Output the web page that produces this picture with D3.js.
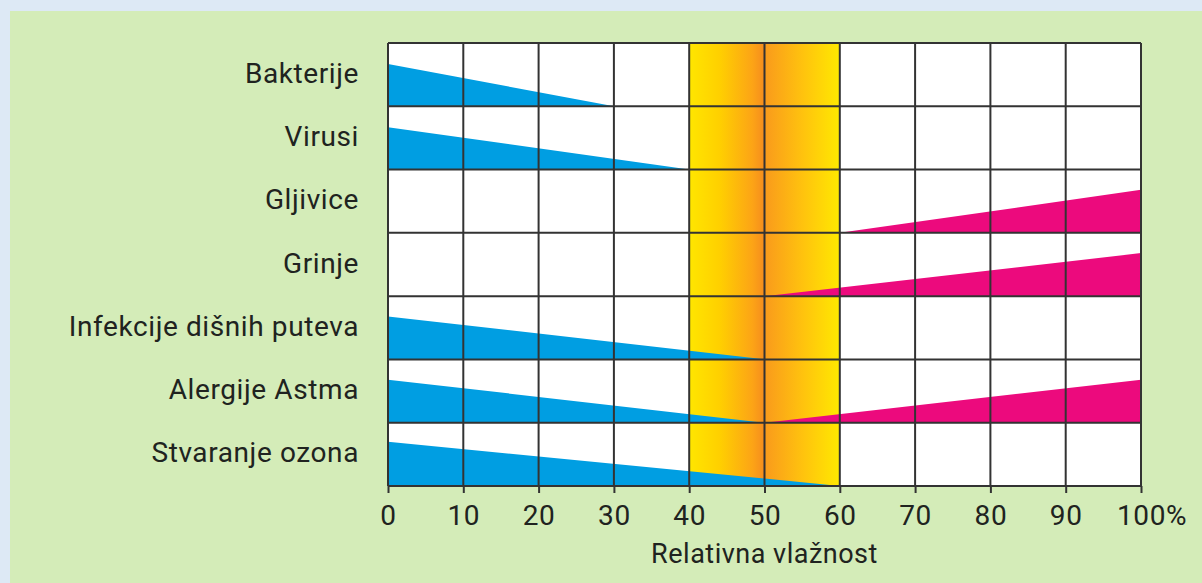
<!DOCTYPE html>
<html>
<head>
<meta charset="utf-8">
<script src="https://cdn.jsdelivr.net/npm/d3@7"></script>
<style>
  html, body { margin: 0; padding: 0; background: #dde9f5; }
  svg { display: block; }
</style>
</head>
<body>
<script>
// rows, top to bottom
const categories = [
  "Bakterije",
  "Virusi",
  "Gljivice",
  "Grinje",
  "Infekcije dišnih puteva",
  "Alergije Astma",
  "Stvaranje ozona"
];
// blue wedge: falls from peak at 0% to nothing at blueEnd
const blueEnd = [30, 40, null, null, 50, 50, 60];
// pink wedge: grows from nothing at pinkStart to peak at 100%
const pinkStart = [null, null, 60, 50, null, 50, null];
// wedge height at its tall end, share of the row
const bluePeak = [0.67, 0.67, null, null, 0.68, 0.68, 0.7];
const pinkPeak = [null, null, 0.68, 0.68, null, 0.68, null];
// comfort zone
const zoneFrom = 40, zoneMid = 50, zoneTo = 60;
const xTicks = [0, 10, 20, 30, 40, 50, 60, 70, 80, 90, 100];
const xTitle = "Relativna vlažnost";

const W = 1202, H = 583;
const margin = { left: 388, top: 43, right: 61, bottom: 97 };
const innerW = W - margin.left - margin.right;
const innerH = H - margin.top - margin.bottom;

const font = "Roboto, 'Noto Sans', sans-serif";
const textColor = "#202320";
const gridColor = "#333333";

const svg = d3.select("body").append("svg")
  .attr("width", W)
  .attr("height", H)
  .attr("viewBox", [0, 0, W, H]);

// green panel
svg.append("rect")
  .attr("x", 10).attr("y", 11)
  .attr("width", W).attr("height", H)
  .attr("fill", "#d4ecb8");

const defs = svg.append("defs");
const grad = defs.append("linearGradient").attr("id", "zone")
  .attr("x1", "0%").attr("x2", "100%").attr("y1", "0%").attr("y2", "0%");
[
  [0, "#ffe600"], [0.2, "#ffd000"], [0.42, "#fca416"], [0.5, "#f58c1e"],
  [0.5, "#f99a1c"], [0.75, "#ffc20e"], [1, "#ffe900"]
].forEach(([o, c]) => grad.append("stop").attr("offset", o).attr("stop-color", c));

const x = d3.scaleLinear().domain([0, 100]).range([0, innerW]);
const y = d3.scaleBand().domain(categories).range([0, innerH]);
// height inside a row: 0 = row bottom, 1 = row top
const h = d3.scaleLinear().domain([0, 1]).range([y.bandwidth(), 0]);

const g = svg.append("g").attr("transform", `translate(${margin.left},${margin.top})`);

g.append("rect")
  .attr("width", innerW).attr("height", innerH)
  .attr("fill", "#ffffff");

g.append("rect")
  .attr("x", x(zoneFrom)).attr("width", x(zoneTo) - x(zoneFrom))
  .attr("height", innerH)
  .attr("fill", "url(#zone)");

const rows = categories.map((name, i) => ({
  name,
  blueEnd: blueEnd[i], bluePeak: bluePeak[i],
  pinkStart: pinkStart[i], pinkPeak: pinkPeak[i]
}));

const row = g.selectAll("g.row")
  .data(rows)
  .join("g")
  .attr("class", "row")
  .attr("transform", d => `translate(0,${y(d.name)})`);

const line = d3.line().x(d => x(d[0])).y(d => h(d[1]));

row.filter(d => d.blueEnd != null)
  .append("path")
  .attr("fill", "#009ee2")
  .attr("d", d => line([[0, 0], [0, d.bluePeak], [d.blueEnd, 0]]) + "Z");

row.filter(d => d.pinkStart != null)
  .append("path")
  .attr("fill", "#ec0a7d")
  .attr("d", d => line([[d.pinkStart, 0], [100, d.pinkPeak], [100, 0]]) + "Z");

// grid
g.append("g")
  .selectAll("line")
  .data(xTicks)
  .join("line")
  .attr("x1", d => x(d)).attr("x2", d => x(d))
  .attr("y1", 0).attr("y2", innerH)
  .attr("stroke", gridColor).attr("stroke-width", 2);

g.append("g")
  .selectAll("line")
  .data(d3.range(categories.length + 1))
  .join("line")
  .attr("x1", 0).attr("x2", innerW)
  .attr("y1", i => i * y.step()).attr("y2", i => i * y.step())
  .attr("stroke", gridColor).attr("stroke-width", 2);

// x axis
const xAxis = g.append("g")
  .attr("transform", `translate(0,${innerH})`)
  .call(d3.axisBottom(x).tickValues(xTicks).tickSize(7).tickPadding(12).tickFormat(d3.format("d")));
xAxis.select(".domain").remove();
xAxis.selectAll(".tick line").attr("stroke", gridColor).attr("stroke-width", 2);
xAxis.selectAll(".tick text")
  .attr("fill", textColor)
  .style("font-family", font)
  .style("font-size", "28px")
  .style("letter-spacing", "0.6px")
  .attr("dy", "0.71em");

// the "%" sits after the centred 100
const last = xAxis.selectAll(".tick text").filter(d => d === 100);
const lastW = last.node().getComputedTextLength();
last.attr("text-anchor", "start").attr("x", -lastW / 2).text("100%");

g.append("text")
  .attr("x", innerW / 2)
  .attr("y", innerH + 77)
  .attr("text-anchor", "middle")
  .attr("fill", textColor)
  .style("font-family", font)
  .style("font-size", "27px")
  .style("letter-spacing", "0.5px")
  .text(xTitle);

// row labels
g.append("g")
  .selectAll("text")
  .data(categories)
  .join("text")
  .attr("x", -29)
  .attr("y", d => y(d) + y.bandwidth() / 2 + 8)
  .attr("text-anchor", "end")
  .attr("fill", textColor)
  .style("font-family", font)
  .style("font-size", "28px")
  .style("letter-spacing", "0.6px")
  .text(d => d);
</script>
</body>
</html>
